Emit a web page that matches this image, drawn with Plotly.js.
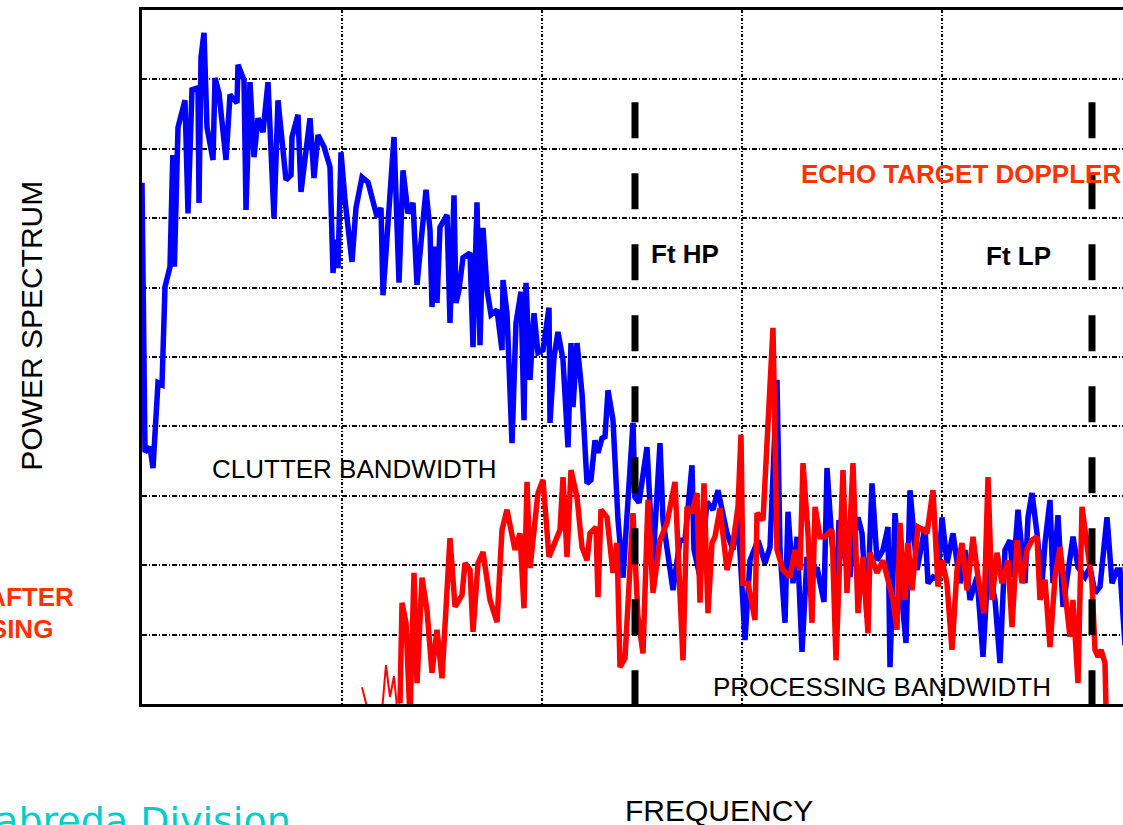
<!DOCTYPE html>
<html>
<head>
<meta charset="utf-8">
<script src="https://cdn.plot.ly/plotly-3.0.1.min.js"></script>
<style>
html,body{margin:0;padding:0;background:#fff;overflow:hidden;}
#chart{width:1160px;height:825px;}
</style>
</head>
<body>
<div id="chart"></div>
<script>
// Frequency axis 0..500, power axis 0..100 (dB-like units)
const blueFreq = [0,1.5,4,5.5,8,10,11.5,14,15.4,16.2,
  18,21.5,23,25,28,28.5,29.5,31,32.5,35.5,
  36.5,38.5,42,44,47.5,48,51,52,54,56,
  58,60.5,63,66,68,70.5,72,74.5,75,78,
  79.5,84,86,88,91,94,95.5,97,98,99.5,
  101.5,105,107,110,113,117.5,119.5,120.5,126,128.5,
  130.5,133,135.5,137.5,142,144,145,146.5,147.5,149,
  152.5,154,156,157,158.5,160.5,164,165.5,167.5,169,
  170.5,172.5,174.5,177.5,180,180.5,182.5,185,187,189.5,
  191,192,194,196,198,200.5,203.5,204,206,208,
  210.5,213,214.5,215.5,217.5,220,222.5,224.5,226.5,228,
  230,231.5,233,235.5,238,240.5,245.5,246.5,248.5,252.5,
  255.5,259,260.5,265.5,269,271.5,275,276,279,282.5,
  285.5,288,292.5,295.5,298,301.5,304,308,311.5,314,
  317.5,319,321.5,323,325.5,327.5,330,332.5,335,337.5,
  341,342.5,345,347.5,348.5,350.5,354,355.5,358,360,
  362.5,365,367.5,370.5,373,374,376.5,379,382,384,
  387.5,391.5,393,395.5,398,400,402.5,405.5,409,411.5,
  414,417.5,420.5,423,426.5,429,431.5,434,435.5,438,
  441.5,443,445,447.5,450,451.5,454,455.5,458,460.5,
  463,465.5,468,471.5,474,476.5,479,482.5,485,487.5,
  489,491.5];
const bluePower = [75.1,36.3,37.0,34.0,46.3,46.0,60.1,63.0,79.1,63.0,
  83.1,87.0,70.7,88.5,88.8,72.2,93.2,96.7,83.1,78.4,
  90.2,88.0,78.4,87.8,86.6,92.1,89.9,71.2,89.6,78.8,
  84.4,82.4,89.6,70.0,87.0,78.4,75.5,76.2,81.7,84.9,
  73.8,84.4,75.8,82.0,80.3,77.4,62.1,66.9,62.8,79.5,
  72.6,63.7,71.5,75.9,75.2,70.2,71.5,58.9,81.7,60.7,
  76.9,70.7,72.2,60.4,74.1,68.3,57.2,65.9,57.8,68.7,
  70.5,54.9,73.3,57.8,59.7,64.3,65.0,51.4,72.3,51.7,
  68.6,59.7,56.1,56.8,51.0,61.1,56.3,37.6,54.9,59.4,
  40.9,60.7,46.7,56.3,50.6,51.0,57.1,40.5,50.0,53.6,
  49.6,37.0,52.0,42.8,52.0,44.8,31.8,32.3,38.0,36.2,
  38.3,38.5,45.2,40.9,26.5,18.2,40.5,29.8,29.0,37.0,
  20.3,37.6,26.5,16.4,23.6,23.6,34.4,22.2,18.3,29.1,
  28.0,30.8,24.6,22.2,26.9,9.2,20.7,23.6,20.3,22.6,
  46.7,22.2,11.7,27.7,17.4,24.1,7.5,21.2,18.3,19.7,
  14.7,34.0,23.2,17.4,26.5,22.2,18.3,23.6,26.9,24.6,
  12.5,31.8,20.7,22.2,25.5,5.3,27.5,18.3,8.8,30.8,
  19.3,25.5,17.4,18.3,17.9,26.9,20.3,24.6,17.4,22.2,
  15.0,18.3,6.8,19.7,15.0,5.9,22.2,23.6,18.3,28.0,
  17.4,26.9,30.4,24.6,17.4,23.2,29.4,17.4,27.2,14.0,
  19.7,24.1,19.7,18.3,19.7,16.0,16.9,26.9,17.4,19.3,
  19.3,8.5];

const redThinFreq = [110,113,120,122,124,126,127.5,129];
const redThinPower = [2.4,-1,-1,5.6,1.0,4.0,-0.5,0.1];

const redFreq = [129,130,132,134,136,137.5,140,142.5,145,147.5,
  150,154,156.5,160,161.5,164,165.5,168,170.5,174,
  177.5,180,182.5,186.5,189,191,192.5,194,198,200.5,
  203.5,207.5,209,210.5,212.5,214.5,217.5,220,222.5,224,
  227,228,229.5,232.5,235.5,237.5,239,241.5,245.5,248,
  250.5,253,255.5,259,262.5,266.5,270.5,272.5,275,277.5,
  279,281,283,285,286.5,289,292.5,295.5,298,299.5,
  300.5,303,306.5,307.5,310.5,315.5,317.5,320.5,324,326.5,
  329,330.5,333,335,336.5,339,341.5,345,347,350.5,
  352.5,355.5,358,360.5,363,364,367.5,370.5,373,375.5,
  377.5,379,381.5,383,385,388,390.5,392.5,395.5,398,
  400,402.5,405,407.5,410,412.5,415.5,418,421,423,
  425,427.5,430,433,435,437.5,440,442.5,445,447.5,
  449,451.5,454,456.5,459,461.5,464,465.5,468,470,
  472.5,475,476.5,478,479.5,481.5,482];
const redPower = [0.1,14.6,11.7,-2.0,18.9,3.0,18.2,13.5,4.5,10.7,
  3.7,23.9,14.0,15.7,20.3,19.3,10.4,20.3,21.9,15.0,
  11.8,25.1,28.0,22.2,24.6,13.8,32.0,19.6,30.4,32.3,
  21.2,24.1,25.1,32.7,21.2,33.7,29.8,22.6,20.7,24.6,
  25.5,15.4,28.0,26.9,18.9,23.2,5.3,6.6,27.5,12.5,
  7.3,29.4,16.0,23.6,26.1,32.0,6.3,28.4,27.5,30.4,
  14.6,31.8,13.1,23.2,24.1,28.2,19.3,23.2,28.4,38.8,
  17.4,17.4,12.1,27.5,26.5,54.2,22.2,19.3,18.3,22.2,
  19.3,34.7,24.6,11.7,28.4,24.1,24.1,25.1,6.3,33.7,
  16.0,34.7,13.1,21.2,10.2,21.8,18.9,20.7,17.4,15.0,
  10.7,26.1,15.0,23.2,16.4,25.5,25.1,24.6,30.8,16.9,
  20.7,17.4,7.8,19.3,23.2,16.4,24.1,18.3,13.1,32.7,
  15.0,21.8,17.4,20.7,11.1,23.6,17.4,22.2,23.6,24.1,
  15.0,17.9,8.2,18.3,22.6,16.0,9.7,15.0,3.0,28.4,
  23.2,17.4,7.8,6.8,7.8,5.9,-0.5];

// Filter cut-off frequencies (Ft HP, Ft LP) and top of their markers
const cutoffFreqs = [246.5, 475];
const cutoffLabels = ['Ft HP', 'Ft LP'];
const cutoffTop = 86.7;

const FONT = 'Liberation Sans, Arial, sans-serif';

const traces = [
  {x: blueFreq, y: bluePower, type: 'scatter', mode: 'lines',
   line: {color: '#0000FF', width: 5.5}, cliponaxis: false, hoverinfo: 'skip'},
  {x: redThinFreq, y: redThinPower, type: 'scatter', mode: 'lines',
   line: {color: '#FF0000', width: 2}, hoverinfo: 'skip'},
  {x: redFreq, y: redPower, type: 'scatter', mode: 'lines',
   line: {color: '#FF0000', width: 5.5}, cliponaxis: false, hoverinfo: 'skip'}
];

const shapes = cutoffFreqs.map(f => ({
  type: 'line', xref: 'x', yref: 'y', x0: f, x1: f, y0: cutoffTop, y1: 0,
  line: {color: 'black', width: 7, dash: '36px,35px'}, layer: 'above'
}));

function note(text, x, y, size, color, extra) {
  return Object.assign({
    text: text, xref: 'paper', yref: 'paper', x: x, y: y,
    xanchor: 'center', yanchor: 'middle', showarrow: false,
    font: {family: FONT, size: size, color: color}
  }, extra || {});
}

const annotations = [
  note('POWER SPECTRUM', -0.110, 0.545, 30, 'black', {textangle: -90}),
  note('FREQUENCY', 0.577, -0.153, 30, 'black'),
  note('CLUTTER BANDWIDTH', 0.2125, 0.3386, 26, 'black'),
  note('PROCESSING BANDWIDTH', 0.7395, 0.0245, 26, 'black'),
  note('<b>' + cutoffLabels[0] + '</b>', 0.543, 0.648, 26, 'black'),
  note('<b>' + cutoffLabels[1] + '</b>', 0.8765, 0.6455, 26, 'black'),
  note('<b>ECHO TARGET DOPPLER</b>', 0.657, 0.7637, 26, '#FF3300', {xanchor: 'left'}),
  note('<b>SPECTRUM AFTER</b>', -0.066, 0.154, 26, '#FF3300', {xanchor: 'right'}),
  note('<b>PROCESSING</b>', -0.087, 0.108, 26, '#FF3300', {xanchor: 'right'}),
  note('Sabreda Division', 0.151, -0.168, 38, '#00CCCC',
       {xanchor: 'right', font: {family: 'DejaVu Sans, sans-serif', size: 38, color: '#00CCCC'}})
];

const axisCommon = {
  showgrid: true, gridcolor: 'black', gridwidth: 2,
  showticklabels: false, ticks: '', zeroline: false,
  showline: true, linecolor: 'black', linewidth: 3, mirror: true,
  layer: 'below traces', fixedrange: true
};

const layout = {
  width: 1160, height: 825,
  margin: {l: 142, r: 18, t: 10, b: 121, pad: 0},
  paper_bgcolor: 'white', plot_bgcolor: 'white',
  showlegend: false,
  xaxis: Object.assign({}, axisCommon, {range: [0, 500], tick0: 0, dtick: 100, griddash: '3px,2px,1px,2px'}),
  yaxis: Object.assign({}, axisCommon, {range: [0, 100], tick0: 0, dtick: 10, griddash: '5px,2px,1px,2px'}),
  shapes: shapes,
  annotations: annotations
};

Plotly.newPlot('chart', traces, layout, {displayModeBar: false, staticPlot: true});
</script>
</body>
</html>
